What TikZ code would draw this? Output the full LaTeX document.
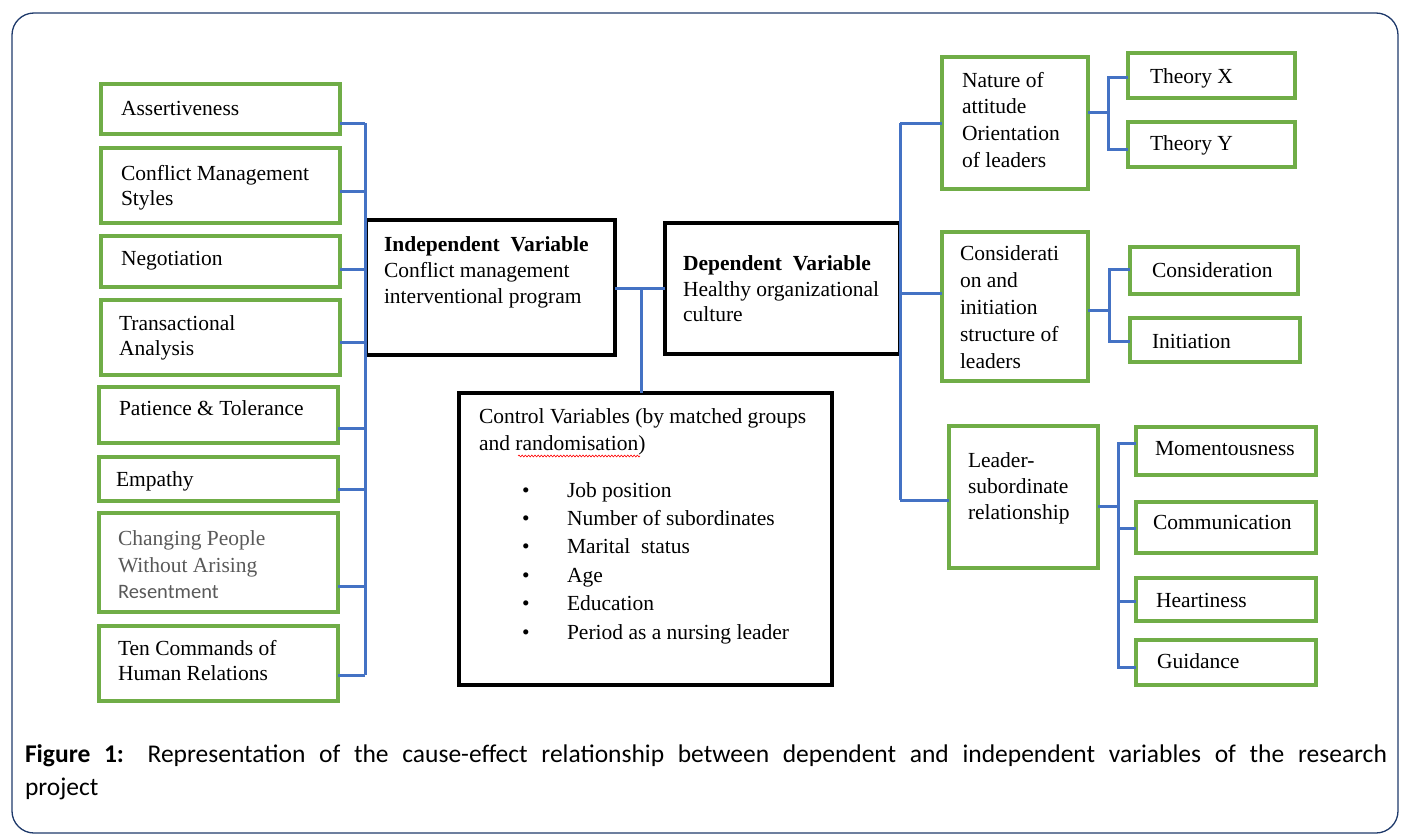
\documentclass[tikz,border=0pt]{standalone}
\usepackage{fontspec}
\setmainfont{Liberation Serif}
\newfontfamily\capfont{Carlito}
\usetikzlibrary{decorations.pathmorphing}
\definecolor{gr}{HTML}{70AD47}
\definecolor{bl}{HTML}{4472C4}
\definecolor{fr}{HTML}{1F3A6B}
\definecolor{gt}{HTML}{595959}
\newcommand\gb[5]{\node[gbox, minimum width={#4-#2}, minimum height={#5-#3}] (#1) at (#2,#3) {};}
\newcommand\kb[5]{\node[kbox, minimum width={#4-#2}, minimum height={#5-#3}] (#1) at (#2,#3) {};}
\begin{document}
\begin{tikzpicture}[x=1pt,y=-1pt,
 gbox/.style={draw=gr, line width=3.2pt, inner sep=0pt, outer sep=0pt, anchor=north west},
 kbox/.style={draw=black, line width=3.8pt, inner sep=0pt, outer sep=0pt, anchor=north west},
 bline/.style={draw=bl, line width=3pt},
 txt/.style={font=\fontsize{21.5}{25}\selectfont, anchor=base west, inner sep=0pt, outer sep=0pt},
 captxt/.style={font=\capfont\fontsize{25.5}{34}\selectfont, anchor=base west, inner sep=0pt, outer sep=0pt}]
\useasboundingbox (0,0) rectangle (1403,835);
\draw[fr, line width=1.3pt, rounded corners=22pt] (12,13) rectangle (1398,833);

% ---------- left boxes ----------
\gb{a1}{101}{84}{340}{134}
\gb{a2}{101}{148}{340}{223}
\gb{a3}{101}{236}{340}{287}
\gb{a4}{101}{300}{340}{375}
\gb{a5}{99}{387}{338}{443}
\gb{a6}{99}{457}{338}{501}
\gb{a7}{99}{513}{338}{612}
\gb{a8}{99}{626}{338}{701}
\node[txt] (t1) at (121,115) {Assertiveness};
\node[txt] (t2a) at (121,180) {Conflict Management};
\node[txt] (t2b) at (121,205) {Styles};
\node[txt] (t3) at (121,265) {Negotiation};
\node[txt] (t4a) at (119,330) {Transactional};
\node[txt] (t4b) at (119,355) {Analysis};
\node[txt] (t5) at (119,415) {Patience \& Tolerance};
\node[txt] (t6) at (116,486) {Empathy};
\node[txt, text=gt] (t7a) at (118,545) {Changing People};
\node[txt, text=gt] (t7b) at (118,572) {Without Arising};
\node[txt, text=gt, font=\capfont\fontsize{20.5}{25}\selectfont] (t7c) at (118,598) {Resentment};
\node[txt] (t8a) at (118,655) {Ten Commands of};
\node[txt] (t8b) at (118,680) {Human Relations};

% ---------- centre boxes ----------
\kb{ind}{366}{220}{615}{355}
\kb{dep}{665}{223}{900}{354}
\kb{ctl}{459}{393}{832}{685}
\node[txt, font=\bfseries\fontsize{21.5}{25}\selectfont] (i1) at (384,251) {Independent\ \ Variable};
\node[txt] (i2) at (384,277) {Conflict management};
\node[txt] (i3) at (384,303) {interventional program};
\node[txt, font=\bfseries\fontsize{21.5}{25}\selectfont] (d1) at (683,270) {Dependent\ \ Variable};
\node[txt] (d2) at (683,296) {Healthy organizational};
\node[txt] (d3) at (683,321) {culture};
\node[txt] (c1) at (479,423) {Control Variables (by matched groups};
\node[txt] (c2) at (479,450) {and randomisation)};
\draw[red, line width=0.6pt, decorate, decoration={snake, amplitude=0.9pt, segment length=3.2pt}] (518,456) -- (640,456);
\foreach \t [count=\i] in {Job position, Number of subordinates, Marital\ \ status, Age, Education, Period as a nursing leader}{
  \node[txt] (cb\i) at (522,{497+28.4*(\i-1)}) {\textbullet};
  \node[txt] (ci\i) at (567,{497+28.4*(\i-1)}) {\t};
}

% ---------- right boxes ----------
\gb{n}{942}{57}{1088}{189}
\gb{tx}{1128}{53}{1295}{98}
\gb{ty}{1128}{122}{1295}{167}
\gb{cs}{942}{232}{1088}{381}
\gb{cc}{1130}{247}{1298}{294}
\gb{ci}{1130}{318}{1300}{362}
\gb{ls}{949}{426}{1098}{568}
\gb{m1}{1136}{427}{1316}{475}
\gb{m2}{1136}{502}{1316}{553}
\gb{m3}{1136}{578}{1316}{621}
\gb{m4}{1136}{640}{1316}{685}
\foreach \t [count=\i] in {Nature of, attitude, Orientation, of leaders}
  \node[txt] (nt\i) at (962,{87+26.7*(\i-1)}) {\t};
\node[txt] (txt1) at (1150,83) {Theory X};
\node[txt] (tyt1) at (1150,150) {Theory Y};
\foreach \t [count=\i] in {Considerati, on and, initiation, structure of, leaders}
  \node[txt] (cst\i) at (960,{260+27.2*(\i-1)}) {\t};
\node[txt] (cct) at (1152,277) {Consideration};
\node[txt] (cit) at (1152,348) {Initiation};
\node[txt] (lst1) at (968,467) {Leader-};
\node[txt] (lst2) at (968,493) {subordinate};
\node[txt] (lst3) at (968,519) {relationship};
\node[txt] (m1t) at (1155,455) {Momentousness};
\node[txt] (m2t) at (1153,529) {Communication};
\node[txt] (m3t) at (1156,607) {Heartiness};
\node[txt] (m4t) at (1157,668) {Guidance};

% ---------- connectors ----------
\coordinate (LB) at (365,0);
\draw[bline] (LB |- 0,123) -- (LB |- 0,675);
\foreach \b/\y in {a1/123, a2/191, a3/269, a4/342, a5/428, a6/489, a7/586, a8/675}
  \draw[bline] (\b.east |- 0,\y) -- (LB |- 0,\y);
\draw[bline] (ind.east |- 0,288) -- (dep.west |- 0,288);
\draw[bline] (641,288) -- (ctl.north -| 641,0);
\coordinate (RB) at (900,0);
\draw[bline] (RB |- 0,123) -- (RB |- 0,500);
\draw[bline] (RB |- 0,123) -- (n.west |- 0,123);
\draw[bline] (RB |- 0,293) -- (cs.west |- 0,293);
\draw[bline] (RB |- 0,500) -- (ls.west |- 0,500);
% nature -> theories
\draw[bline] (n.east |- 0,112) -- (1108,112);
\draw[bline] (tx.west |- 0,77) -- (1108,77) -- (1108,149) -- (ty.west |- 0,149);
% consideration -> sub
\draw[bline] (cs.east |- 0,310) -- (1109,310);
\draw[bline] (cc.west |- 0,269) -- (1109,269) -- (1109,341) -- (ci.west |- 0,341);
% leader -> sub
\draw[bline] (ls.east |- 0,506) -- (1118,506);
\draw[bline] (m1.west |- 0,443) -- (1118,443) -- (1118,667) -- (m4.west |- 0,667);
\draw[bline] (1118,528) -- (m2.west |- 0,528);
\draw[bline] (1118,601) -- (m3.west |- 0,601);

% ---------- caption ----------
\node[captxt] (cap1) at (25,762)
  {\makebox[1362pt][s]{\textbf{Figure 1:} Representation of the cause-effect relationship between dependent and independent variables of the research}};
\node[captxt] (cap2) at (25,795) {project};
\end{tikzpicture}
\end{document}
